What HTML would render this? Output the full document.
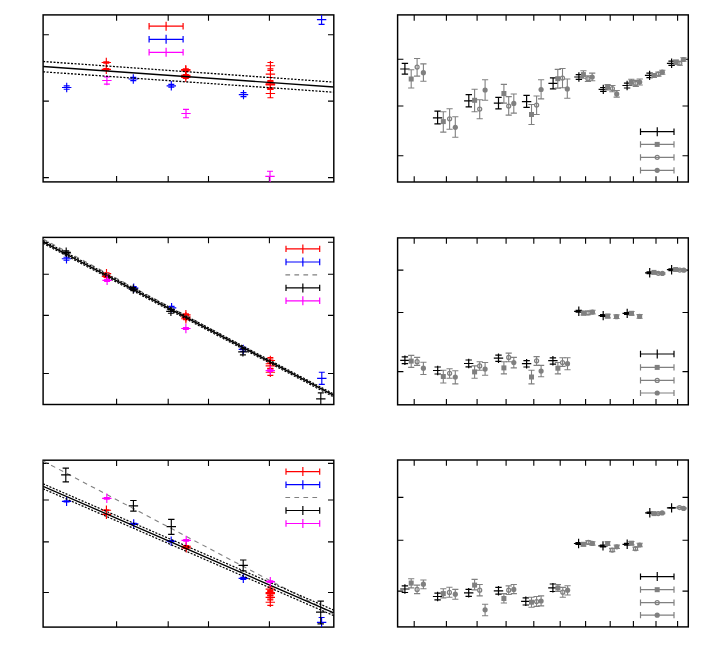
<!DOCTYPE html><html><head><meta charset="utf-8"><title>plot</title><style>html,body{margin:0;padding:0;background:#fff;font-family:"Liberation Sans",sans-serif}svg{display:block}</style></head><body>
<svg width="709" height="668" viewBox="0 0 709 668">
<rect width="709" height="668" fill="#fff"/>
<clipPath id="c1"><rect x="43.1" y="14.9" width="290.7" height="167.0"/></clipPath>
<rect x="43.1" y="14.9" width="290.70" height="167.00" fill="none" stroke="#000" stroke-width="1.45"/>
<path d="M116.6 181.9V176.1M168.2 181.9V176.1M208.5 181.9V176.1M269.4 181.9V176.1M116.6 14.9V20.7M168.2 14.9V20.7M208.5 14.9V20.7M269.4 14.9V20.7M43.1 34.8H48.9M43.1 101.1H48.9M43.1 177.6H48.9M333.8 34.8H328.0M333.8 101.1H328.0M333.8 177.6H328.0" stroke="#000" stroke-width="1.1" fill="none"/>
<g clip-path="url(#c1)">
<path d="M106.3 57.80V67.20M101.6 62.5H111.0M103.3 61.80H109.3M103.3 63.20H109.3" stroke="#ff0000" stroke-width="1.15" fill="none"/>
<path d="M106.3 64.65V74.05M101.6 69.35H111.0M103.3 68.65H109.3M103.3 70.05H109.3" stroke="#ff0000" stroke-width="1.15" fill="none"/>
<path d="M185.8 64.90V74.30M181.10 69.6H190.5M182.8 68.80H188.8M182.8 70.40H188.8" stroke="#ff0000" stroke-width="1.15" fill="none"/>
<path d="M185.8 66.00V75.40M181.10 70.7H190.5M182.8 69.90H188.8M182.8 71.50H188.8" stroke="#ff0000" stroke-width="1.15" fill="none"/>
<path d="M185.8 70.70V80.10M181.10 75.4H190.5M182.8 74.50H188.8M182.8 76.30H188.8" stroke="#ff0000" stroke-width="1.15" fill="none"/>
<path d="M185.8 72.70V82.10M181.10 77.4H190.5M182.8 76.50H188.8M182.8 78.30H188.8" stroke="#ff0000" stroke-width="1.15" fill="none"/>
<path d="M270.4 61.00V70.40M265.7 65.7H275.10M267.4 62.50H273.4M267.4 68.80H273.4" stroke="#ff0000" stroke-width="1.15" fill="none"/>
<path d="M270.4 69.40V78.80M265.7 74.1H275.10M267.4 70.50H273.4M267.4 77.50H273.4" stroke="#ff0000" stroke-width="1.15" fill="none"/>
<path d="M270.4 79.20V88.60M265.7 83.9H275.10M267.4 80.60H273.4M267.4 87.70H273.4" stroke="#ff0000" stroke-width="1.15" fill="none"/>
<path d="M270.4 80.10V89.50M265.7 84.8H275.10M267.4 81.80H273.4M267.4 88.50H273.4" stroke="#ff0000" stroke-width="1.15" fill="none"/>
<path d="M270.4 79.70V89.30M265.7 84.4H275.10M267.4 81.20H273.4M267.4 89.30H273.4" stroke="#ff0000" stroke-width="1.15" fill="none"/>
<path d="M270.4 88.80V98.20M265.7 93.5H275.10M267.4 89.30H273.4M267.4 97.70H273.4" stroke="#ff0000" stroke-width="1.15" fill="none"/>
<path d="M66.7 82.80V92.20M62.0 87.5H71.4M63.7 85.80H69.7M63.7 89.20H69.7" stroke="#0000ff" stroke-width="1.15" fill="none"/>
<path d="M133.3 74.30V83.70M128.60 79.0H138.0M130.3 77.40H136.3M130.3 80.60H136.3" stroke="#0000ff" stroke-width="1.15" fill="none"/>
<path d="M171.3 81.10V90.50M166.60 85.8H176.0M168.3 84.40H174.3M168.3 87.20H174.3" stroke="#0000ff" stroke-width="1.15" fill="none"/>
<path d="M243.5 89.90V99.30M238.8 94.6H248.2M240.5 92.60H246.5M240.5 96.60H246.5" stroke="#0000ff" stroke-width="1.15" fill="none"/>
<path d="M321.6 10.00V24.40M316.90 19.6H326.3M318.6 10.00H324.6M318.6 24.40H324.6" stroke="#0000ff" stroke-width="1.15" fill="none"/>
<path d="M106.9 75.75V85.15M102.2 80.45H111.60M103.9 76.90H109.9M103.9 84.05H109.9" stroke="#ff00ff" stroke-width="1.15" fill="none"/>
<path d="M186.0 108.80V118.20M181.3 113.5H190.7M183.0 109.30H189.0M183.0 117.70H189.0" stroke="#ff00ff" stroke-width="1.15" fill="none"/>
<path d="M270.0 171.20V190.00M265.3 176.4H274.7M267.0 171.20H273.0M267.0 190.00H273.0" stroke="#ff00ff" stroke-width="1.15" fill="none"/>
<path d="M43.1 61.5L333.8 82.1" stroke="#000" stroke-width="1.3" fill="none" stroke-dasharray="2 1.5"/>
<path d="M43.1 71.8L333.8 92.2" stroke="#000" stroke-width="1.3" fill="none" stroke-dasharray="2 1.5"/>
<path d="M43.1 66.5L333.8 87.0" stroke="#000" stroke-width="1.4" fill="none"/>
</g>
<path d="M149.1 26.2H183.1M149.1 23.0V29.4M183.1 23.0V29.4M166.1 21.7V30.7" stroke="#ff0000" stroke-width="1.2" fill="none"/>
<path d="M149.1 39.3H183.1M149.1 36.10V42.5M183.1 36.10V42.5M166.1 34.8V43.8" stroke="#0000ff" stroke-width="1.2" fill="none"/>
<path d="M149.1 52.3H183.1M149.1 49.10V55.5M183.1 49.10V55.5M166.1 47.8V56.8" stroke="#ff00ff" stroke-width="1.2" fill="none"/>
<rect x="397.6" y="14.9" width="290.70" height="167.10" fill="none" stroke="#000" stroke-width="1.45"/>
<path d="M414.2 182.0V176.2M446.4 182.0V176.2M477.1 182.0V176.2M506.1 182.0V176.2M533.8 182.0V176.2M560.2 182.0V176.2M585.6 182.0V176.2M610.2 182.0V176.2M633.4 182.0V176.2M656.0 182.0V176.2M677.6 182.0V176.2M414.2 14.9V20.7M446.4 14.9V20.7M477.1 14.9V20.7M506.1 14.9V20.7M533.8 14.9V20.7M560.2 14.9V20.7M585.6 14.9V20.7M610.2 14.9V20.7M633.4 14.9V20.7M656.0 14.9V20.7M677.6 14.9V20.7M397.6 59.2H403.40M397.6 106.0H403.40M397.6 155.8H403.40M688.3 59.2H682.5M688.3 106.0H682.5M688.3 155.8H682.5" stroke="#000" stroke-width="1.1" fill="none"/>
<path d="M404.9 63.30V74.10M400.2 69.0H409.60M401.7 63.30H408.10M401.7 74.10H408.10" stroke="#000000" stroke-width="1.2" fill="none"/>
<path d="M411.2 69.80V88.00M408.10 69.80H414.3M408.10 88.00H414.3" stroke="#808080" stroke-width="1.1" fill="none"/>
<rect x="408.7" y="76.5" width="5.0" height="5.0" fill="#808080"/>
<path d="M417.1 58.50V76.10M414.0 58.50H420.20M414.0 76.10H420.20" stroke="#808080" stroke-width="1.1" fill="none"/>
<circle cx="417.1" cy="67.0" r="2.0" fill="none" stroke="#808080" stroke-width="1.25"/>
<path d="M423.4 63.90V81.20M420.30 63.90H426.5M420.30 81.20H426.5" stroke="#808080" stroke-width="1.1" fill="none"/>
<circle cx="423.4" cy="72.7" r="2.6" fill="#808080"/>
<path d="M437.6 111.10V123.90M432.90 117.9H442.3M434.40 111.10H440.8M434.40 123.90H440.8" stroke="#000000" stroke-width="1.2" fill="none"/>
<path d="M443.3 111.70V132.10M440.2 111.70H446.40M440.2 132.10H446.40" stroke="#808080" stroke-width="1.1" fill="none"/>
<rect x="440.8" y="119.1" width="5.0" height="5.0" fill="#808080"/>
<path d="M449.6 108.80V129.30M446.5 108.80H452.70M446.5 129.30H452.70" stroke="#808080" stroke-width="1.1" fill="none"/>
<circle cx="449.6" cy="118.8" r="2.0" fill="none" stroke="#808080" stroke-width="1.25"/>
<path d="M455.3 116.80V137.30M452.2 116.80H458.40M452.2 137.30H458.40" stroke="#808080" stroke-width="1.1" fill="none"/>
<circle cx="455.3" cy="127.3" r="2.6" fill="#808080"/>
<path d="M468.8 94.60V106.90M464.1 100.8H473.5M465.6 94.60H472.0M465.6 106.90H472.0" stroke="#000000" stroke-width="1.2" fill="none"/>
<path d="M474.6 89.20V111.70M471.5 89.20H477.70M471.5 111.70H477.70" stroke="#808080" stroke-width="1.1" fill="none"/>
<rect x="472.1" y="97.8" width="5.0" height="5.0" fill="#808080"/>
<path d="M479.7 99.70V118.80M476.60 99.70H482.8M476.60 118.80H482.8" stroke="#808080" stroke-width="1.1" fill="none"/>
<circle cx="479.7" cy="109.1" r="2.0" fill="none" stroke="#808080" stroke-width="1.25"/>
<path d="M485.1 79.80V100.30M482.0 79.80H488.20M482.0 100.30H488.20" stroke="#808080" stroke-width="1.1" fill="none"/>
<circle cx="485.1" cy="90.0" r="2.6" fill="#808080"/>
<path d="M498.5 97.40V108.80M493.8 103.1H503.2M495.3 97.40H501.7M495.3 108.80H501.7" stroke="#000000" stroke-width="1.2" fill="none"/>
<path d="M503.9 84.40V103.10M500.80 84.40H507.0M500.80 103.10H507.0" stroke="#808080" stroke-width="1.1" fill="none"/>
<rect x="501.4" y="91.0" width="5.0" height="5.0" fill="#808080"/>
<path d="M508.7 96.60V115.10M505.60 96.60H511.8M505.60 115.10H511.8" stroke="#808080" stroke-width="1.1" fill="none"/>
<circle cx="508.7" cy="106.0" r="2.0" fill="none" stroke="#808080" stroke-width="1.25"/>
<path d="M513.8 94.00V113.10M510.70 94.00H516.9M510.70 113.10H516.9" stroke="#808080" stroke-width="1.1" fill="none"/>
<circle cx="513.8" cy="103.4" r="2.6" fill="#808080"/>
<path d="M526.6 95.40V107.40M521.9 101.7H531.30M523.4 95.40H529.80M523.4 107.40H529.80" stroke="#000000" stroke-width="1.2" fill="none"/>
<path d="M531.5 104.50V124.50M528.4 104.50H534.6M528.4 124.50H534.6" stroke="#808080" stroke-width="1.1" fill="none"/>
<rect x="529.0" y="112.0" width="5.0" height="5.0" fill="#808080"/>
<path d="M536.6 96.00V114.50M533.5 96.00H539.7M533.5 114.50H539.7" stroke="#808080" stroke-width="1.1" fill="none"/>
<circle cx="536.6" cy="105.1" r="2.0" fill="none" stroke="#808080" stroke-width="1.25"/>
<path d="M541.1 79.80V98.90M538.0 79.80H544.2M538.0 98.90H544.2" stroke="#808080" stroke-width="1.1" fill="none"/>
<circle cx="541.1" cy="89.5" r="2.6" fill="#808080"/>
<path d="M553.1 77.90V88.90M548.4 83.4H557.80M549.9 77.90H556.30M549.9 88.90H556.30" stroke="#000000" stroke-width="1.2" fill="none"/>
<path d="M557.8 69.40V88.10M554.70 69.40H560.9M554.70 88.10H560.9" stroke="#808080" stroke-width="1.1" fill="none"/>
<rect x="555.3" y="76.2" width="5.0" height="5.0" fill="#808080"/>
<path d="M562.5 68.50V87.70M559.4 68.50H565.6M559.4 87.70H565.6" stroke="#808080" stroke-width="1.1" fill="none"/>
<circle cx="562.5" cy="78.1" r="2.0" fill="none" stroke="#808080" stroke-width="1.25"/>
<path d="M567.3 79.00V98.20M564.20 79.00H570.4M564.20 98.20H570.4" stroke="#808080" stroke-width="1.1" fill="none"/>
<circle cx="567.3" cy="88.9" r="2.6" fill="#808080"/>
<path d="M578.9 72.30V81.70M574.20 77.0H583.6M575.70 74.70H582.1M575.70 79.30H582.1" stroke="#000000" stroke-width="1.2" fill="none"/>
<path d="M583.4 70.80V78.30M580.3 70.80H586.5M580.3 78.30H586.5" stroke="#808080" stroke-width="1.1" fill="none"/>
<rect x="580.9" y="72.1" width="5.0" height="5.0" fill="#808080"/>
<path d="M587.9 75.90V81.50M584.8 75.90H591.0M584.8 81.50H591.0" stroke="#808080" stroke-width="1.1" fill="none"/>
<circle cx="587.9" cy="78.7" r="2.0" fill="none" stroke="#808080" stroke-width="1.25"/>
<path d="M592.2 73.10V80.70M589.1 73.10H595.30M589.1 80.70H595.30" stroke="#808080" stroke-width="1.1" fill="none"/>
<circle cx="592.2" cy="77.0" r="2.6" fill="#808080"/>
<path d="M603.3 84.70V94.10M598.60 89.4H608.0M600.10 87.50H606.5M600.10 91.30H606.5" stroke="#000000" stroke-width="1.2" fill="none"/>
<path d="M607.6 84.60V90.00M604.5 84.60H610.7M604.5 90.00H610.7" stroke="#808080" stroke-width="1.1" fill="none"/>
<rect x="605.1" y="84.7" width="5.0" height="5.0" fill="#808080"/>
<path d="M612.4 85.50V91.70M609.3 85.50H615.5M609.3 91.70H615.5" stroke="#808080" stroke-width="1.1" fill="none"/>
<circle cx="612.4" cy="88.5" r="2.0" fill="none" stroke="#808080" stroke-width="1.25"/>
<path d="M616.7 90.50V97.10M613.6 90.50H619.80M613.6 97.10H619.80" stroke="#808080" stroke-width="1.1" fill="none"/>
<circle cx="616.7" cy="93.9" r="2.6" fill="#808080"/>
<path d="M627.1 80.80V90.20M622.4 85.5H631.80M623.9 83.10H630.30M623.9 88.00H630.30" stroke="#000000" stroke-width="1.2" fill="none"/>
<path d="M631.3 79.30V85.30M628.20 79.30H634.4M628.20 85.30H634.4" stroke="#808080" stroke-width="1.1" fill="none"/>
<rect x="628.8" y="79.8" width="5.0" height="5.0" fill="#808080"/>
<path d="M635.8 80.40V86.40M632.70 80.40H638.9M632.70 86.40H638.9" stroke="#808080" stroke-width="1.1" fill="none"/>
<circle cx="635.8" cy="83.4" r="2.0" fill="none" stroke="#808080" stroke-width="1.25"/>
<path d="M639.7 79.00V85.00M636.6 79.00H642.80M636.6 85.00H642.80" stroke="#808080" stroke-width="1.1" fill="none"/>
<circle cx="639.7" cy="82.0" r="2.6" fill="#808080"/>
<path d="M649.6 70.70V80.10M644.9 75.4H654.30M646.4 73.20H652.80M646.4 77.60H652.80" stroke="#000000" stroke-width="1.2" fill="none"/>
<path d="M653.9 73.50V77.50M650.8 73.50H657.0M650.8 77.50H657.0" stroke="#808080" stroke-width="1.1" fill="none"/>
<rect x="651.4" y="73.0" width="5.0" height="5.0" fill="#808080"/>
<path d="M658.4 72.10V76.10M655.3 72.10H661.5M655.3 76.10H661.5" stroke="#808080" stroke-width="1.1" fill="none"/>
<circle cx="658.4" cy="74.1" r="2.0" fill="none" stroke="#808080" stroke-width="1.25"/>
<path d="M662.3 70.20V74.20M659.20 70.20H665.4M659.20 74.20H665.4" stroke="#808080" stroke-width="1.1" fill="none"/>
<circle cx="662.3" cy="72.2" r="2.6" fill="#808080"/>
<path d="M671.6 58.60V68.00M666.9 63.3H676.30M668.4 61.20H674.80M668.4 65.40H674.80" stroke="#000000" stroke-width="1.2" fill="none"/>
<path d="M675.9 60.10V64.50M672.8 60.10H679.0M672.8 64.50H679.0" stroke="#808080" stroke-width="1.1" fill="none"/>
<rect x="673.4" y="59.8" width="5.0" height="5.0" fill="#808080"/>
<path d="M679.8 61.30V65.30M676.70 61.30H682.9M676.70 65.30H682.9" stroke="#808080" stroke-width="1.1" fill="none"/>
<circle cx="679.8" cy="63.3" r="2.0" fill="none" stroke="#808080" stroke-width="1.25"/>
<path d="M683.4 57.70V61.30M680.3 57.70H686.5M680.3 61.30H686.5" stroke="#808080" stroke-width="1.1" fill="none"/>
<circle cx="683.4" cy="59.5" r="2.6" fill="#808080"/>
<path d="M640.5 131.7H674.0M640.5 128.5V134.90M674.0 128.5V134.90M657.25 127.20V136.2" stroke="#000000" stroke-width="1.2" fill="none"/>
<path d="M640.5 144.4H674.0M640.5 141.3V147.5M674.0 141.3V147.5" stroke="#808080" stroke-width="1.2" fill="none"/>
<rect x="654.7" y="141.9" width="5.0" height="5.0" fill="#808080"/>
<path d="M640.5 157.3H674.0M640.5 154.20V160.4M674.0 154.20V160.4" stroke="#808080" stroke-width="1.2" fill="none"/>
<circle cx="657.2" cy="157.3" r="2.0" fill="none" stroke="#808080" stroke-width="1.25"/>
<path d="M640.5 170.3H674.0M640.5 167.20V173.4M674.0 167.20V173.4" stroke="#808080" stroke-width="1.2" fill="none"/>
<circle cx="657.2" cy="170.3" r="2.6" fill="#808080"/>
<clipPath id="c3"><rect x="43.1" y="237.4" width="290.7" height="167.1"/></clipPath>
<rect x="43.1" y="237.4" width="290.70" height="167.10" fill="none" stroke="#000" stroke-width="1.45"/>
<path d="M116.6 404.5V398.7M168.2 404.5V398.7M208.5 404.5V398.7M269.4 404.5V398.7M116.6 237.4V243.20M168.2 237.4V243.20M208.5 237.4V243.20M269.4 237.4V243.20M43.1 242.3H48.9M43.1 274.2H48.9M43.1 315.4H48.9M43.1 373.5H48.9M333.8 242.3H328.0M333.8 274.2H328.0M333.8 315.4H328.0M333.8 373.5H328.0" stroke="#000" stroke-width="1.1" fill="none"/>
<g clip-path="url(#c3)">
<path d="M106.5 268.90V278.30M101.8 273.6H111.2M103.5 272.70H109.5M103.5 274.50H109.5" stroke="#ff0000" stroke-width="1.15" fill="none"/>
<path d="M106.5 271.70V281.10M101.8 276.4H111.2M103.5 275.50H109.5M103.5 277.30H109.5" stroke="#ff0000" stroke-width="1.15" fill="none"/>
<path d="M185.9 310.10V319.50M181.20 314.8H190.6M182.9 313.80H188.9M182.9 315.80H188.9" stroke="#ff0000" stroke-width="1.15" fill="none"/>
<path d="M185.9 312.10V321.50M181.20 316.8H190.6M182.9 315.80H188.9M182.9 317.80H188.9" stroke="#ff0000" stroke-width="1.15" fill="none"/>
<path d="M185.9 314.00V323.40M181.20 318.7H190.6M182.9 317.70H188.9M182.9 319.70H188.9" stroke="#ff0000" stroke-width="1.15" fill="none"/>
<path d="M270.35 355.80V365.20M265.65 360.5H275.05M267.35 357.60H273.35M267.35 363.40H273.35" stroke="#ff0000" stroke-width="1.15" fill="none"/>
<path d="M270.35 359.00V368.40M265.65 363.7H275.05M267.35 359.00H273.35M267.35 368.20H273.35" stroke="#ff0000" stroke-width="1.15" fill="none"/>
<path d="M270.35 361.10V370.50M265.65 365.8H275.05M267.35 363.00H273.35M267.35 368.60H273.35" stroke="#ff0000" stroke-width="1.15" fill="none"/>
<path d="M270.35 367.50V376.90M265.65 372.2H275.05M267.35 369.00H273.35M267.35 375.30H273.35" stroke="#ff0000" stroke-width="1.15" fill="none"/>
<path d="M66.5 254.00V263.40M61.8 258.7H71.2M63.5 257.20H69.5M63.5 260.20H69.5" stroke="#0000ff" stroke-width="1.15" fill="none"/>
<path d="M133.7 283.40V292.80M129.0 288.1H138.40M130.7 286.60H136.7M130.7 289.60H136.7" stroke="#0000ff" stroke-width="1.15" fill="none"/>
<path d="M171.6 303.10V312.50M166.9 307.8H176.30M168.6 306.30H174.6M168.6 309.30H174.6" stroke="#0000ff" stroke-width="1.15" fill="none"/>
<path d="M243.3 344.70V354.10M238.60 349.4H248.0M240.3 347.40H246.3M240.3 351.40H246.3" stroke="#0000ff" stroke-width="1.15" fill="none"/>
<path d="M321.8 372.20V384.40M317.1 378.3H326.5M318.8 372.20H324.8M318.8 384.40H324.8" stroke="#0000ff" stroke-width="1.15" fill="none"/>
<path d="M43.1 239.0L333.8 395.0" stroke="#808080" stroke-width="1.1" fill="none" stroke-dasharray="4.7 4.3"/>
<path d="M43.1 240.45L333.8 394.05" stroke="#000" stroke-width="1.2" fill="none" stroke-dasharray="2 1.5"/>
<path d="M43.1 243.35L333.8 396.95" stroke="#000" stroke-width="1.2" fill="none" stroke-dasharray="2 1.5"/>
<path d="M43.1 241.9L333.8 395.5" stroke="#000" stroke-width="1.4" fill="none"/>
<path d="M66.2 247.60V257.00M61.5 252.3H70.9M63.2 250.80H69.2M63.2 253.80H69.2" stroke="#000000" stroke-width="1.15" fill="none"/>
<path d="M133.3 284.40V293.80M128.60 289.1H138.0M130.3 287.60H136.3M130.3 290.60H136.3" stroke="#000000" stroke-width="1.15" fill="none"/>
<path d="M170.9 306.70V316.10M166.20 311.4H175.6M167.9 309.60H173.9M167.9 313.20H173.9" stroke="#000000" stroke-width="1.15" fill="none"/>
<path d="M242.9 347.20V356.60M238.20 351.9H247.6M239.9 348.90H245.9M239.9 354.90H245.9" stroke="#000000" stroke-width="1.15" fill="none"/>
<path d="M320.8 392.90V410.00M316.1 398.8H325.5M317.8 392.90H323.8M317.8 410.00H323.8" stroke="#000000" stroke-width="1.15" fill="none"/>
<path d="M107.1 275.60V285.00M102.40 280.3H111.8M104.1 279.30H110.1M104.1 281.30H110.1" stroke="#ff00ff" stroke-width="1.15" fill="none"/>
<path d="M185.9 323.80V333.20M181.20 328.5H190.6M182.9 327.60H188.9M182.9 329.40H188.9" stroke="#ff00ff" stroke-width="1.15" fill="none"/>
<path d="M270.3 365.80V375.20M265.6 370.5H275.0M267.3 369.70H273.3M267.3 371.30H273.3" stroke="#ff00ff" stroke-width="1.15" fill="none"/>
</g>
<path d="M286.0 248.9H319.7M286.0 245.70V252.1M319.7 245.70V252.1M302.85 244.4V253.4" stroke="#ff0000" stroke-width="1.2" fill="none"/>
<path d="M286.0 262.0H319.7M286.0 258.8V265.2M319.7 258.8V265.2M302.85 257.5V266.5" stroke="#0000ff" stroke-width="1.2" fill="none"/>
<path d="M285.4 274.8L319.7 274.8" stroke="#808080" stroke-width="1.3" fill="none" stroke-dasharray="4.7 4.3"/>
<path d="M286.0 287.9H319.7M286.0 284.7V291.10M319.7 284.7V291.10M302.85 283.4V292.4" stroke="#000000" stroke-width="1.2" fill="none"/>
<path d="M286.0 300.8H319.7M286.0 297.6V304.0M319.7 297.6V304.0M302.85 296.3V305.3" stroke="#ff00ff" stroke-width="1.2" fill="none"/>
<rect x="397.6" y="237.9" width="290.70" height="166.90" fill="none" stroke="#000" stroke-width="1.45"/>
<path d="M414.2 404.8V399.0M446.4 404.8V399.0M477.1 404.8V399.0M506.1 404.8V399.0M533.8 404.8V399.0M560.2 404.8V399.0M585.6 404.8V399.0M610.2 404.8V399.0M633.4 404.8V399.0M656.0 404.8V399.0M677.6 404.8V399.0M414.2 237.9V243.70M446.4 237.9V243.70M477.1 237.9V243.70M506.1 237.9V243.70M533.8 237.9V243.70M560.2 237.9V243.70M585.6 237.9V243.70M610.2 237.9V243.70M633.4 237.9V243.70M656.0 237.9V243.70M677.6 237.9V243.70M397.6 270.1H403.40M397.6 312.5H403.40M397.6 371.6H403.40M688.3 270.1H682.5M688.3 312.5H682.5M688.3 371.6H682.5" stroke="#000" stroke-width="1.1" fill="none"/>
<path d="M404.9 355.60V365.00M400.2 360.3H409.60M401.7 356.90H408.10M401.7 363.60H408.10" stroke="#000000" stroke-width="1.2" fill="none"/>
<path d="M411.2 355.40V367.40M408.10 355.40H414.3M408.10 367.40H414.3" stroke="#808080" stroke-width="1.1" fill="none"/>
<rect x="408.7" y="358.6" width="5.0" height="5.0" fill="#808080"/>
<path d="M417.1 357.40V365.40M414.0 357.40H420.20M414.0 365.40H420.20" stroke="#808080" stroke-width="1.1" fill="none"/>
<circle cx="417.1" cy="361.7" r="2.0" fill="none" stroke="#808080" stroke-width="1.25"/>
<path d="M423.4 362.20V374.50M420.30 362.20H426.5M420.30 374.50H426.5" stroke="#808080" stroke-width="1.1" fill="none"/>
<circle cx="423.4" cy="368.2" r="2.6" fill="#808080"/>
<path d="M437.7 365.80V375.20M433.0 370.5H442.4M434.5 367.00H440.9M434.5 374.00H440.9" stroke="#000000" stroke-width="1.2" fill="none"/>
<path d="M443.3 370.20V383.00M440.2 370.20H446.40M440.2 383.00H446.40" stroke="#808080" stroke-width="1.1" fill="none"/>
<rect x="440.8" y="374.0" width="5.0" height="5.0" fill="#808080"/>
<path d="M449.6 368.80V378.20M446.5 368.80H452.70M446.5 378.20H452.70" stroke="#808080" stroke-width="1.1" fill="none"/>
<circle cx="449.6" cy="373.3" r="2.0" fill="none" stroke="#808080" stroke-width="1.25"/>
<path d="M455.3 370.80V383.90M452.2 370.80H458.40M452.2 383.90H458.40" stroke="#808080" stroke-width="1.1" fill="none"/>
<circle cx="455.3" cy="377.0" r="2.6" fill="#808080"/>
<path d="M468.7 358.80V368.20M464.0 363.5H473.4M465.5 360.00H471.9M465.5 366.90H471.9" stroke="#000000" stroke-width="1.2" fill="none"/>
<path d="M474.6 365.90V378.20M471.5 365.90H477.70M471.5 378.20H477.70" stroke="#808080" stroke-width="1.1" fill="none"/>
<rect x="472.1" y="369.4" width="5.0" height="5.0" fill="#808080"/>
<path d="M479.7 361.70V370.20M476.60 361.70H482.8M476.60 370.20H482.8" stroke="#808080" stroke-width="1.1" fill="none"/>
<circle cx="479.7" cy="365.9" r="2.0" fill="none" stroke="#808080" stroke-width="1.25"/>
<path d="M485.1 362.50V375.30M482.0 362.50H488.20M482.0 375.30H488.20" stroke="#808080" stroke-width="1.1" fill="none"/>
<circle cx="485.1" cy="369.1" r="2.6" fill="#808080"/>
<path d="M498.5 353.50V362.90M493.8 358.2H503.2M495.3 355.20H501.7M495.3 361.30H501.7" stroke="#000000" stroke-width="1.2" fill="none"/>
<path d="M503.9 361.70V373.90M500.80 361.70H507.0M500.80 373.90H507.0" stroke="#808080" stroke-width="1.1" fill="none"/>
<rect x="501.4" y="365.4" width="5.0" height="5.0" fill="#808080"/>
<path d="M508.7 353.10V361.70M505.60 353.10H511.8M505.60 361.70H511.8" stroke="#808080" stroke-width="1.1" fill="none"/>
<circle cx="508.7" cy="357.4" r="2.0" fill="none" stroke="#808080" stroke-width="1.25"/>
<path d="M513.8 357.40V367.90M510.70 357.40H516.9M510.70 367.90H516.9" stroke="#808080" stroke-width="1.1" fill="none"/>
<circle cx="513.8" cy="362.5" r="2.6" fill="#808080"/>
<path d="M526.6 359.00V368.40M521.9 363.7H531.30M523.4 360.60H529.80M523.4 367.00H529.80" stroke="#000000" stroke-width="1.2" fill="none"/>
<path d="M531.5 370.20V383.90M528.4 370.20H534.6M528.4 383.90H534.6" stroke="#808080" stroke-width="1.1" fill="none"/>
<rect x="529.0" y="374.5" width="5.0" height="5.0" fill="#808080"/>
<path d="M536.6 356.60V365.40M533.5 356.60H539.7M533.5 365.40H539.7" stroke="#808080" stroke-width="1.1" fill="none"/>
<circle cx="536.6" cy="360.8" r="2.0" fill="none" stroke="#808080" stroke-width="1.25"/>
<path d="M541.1 365.40V376.80M538.0 365.40H544.2M538.0 376.80H544.2" stroke="#808080" stroke-width="1.1" fill="none"/>
<circle cx="541.1" cy="371.1" r="2.6" fill="#808080"/>
<path d="M552.9 356.00V365.40M548.20 360.7H557.6M549.70 357.80H556.1M549.70 364.10H556.1" stroke="#000000" stroke-width="1.2" fill="none"/>
<path d="M557.9 362.50V373.90M554.8 362.50H561.0M554.8 373.90H561.0" stroke="#808080" stroke-width="1.1" fill="none"/>
<rect x="555.4" y="365.7" width="5.0" height="5.0" fill="#808080"/>
<path d="M562.5 357.80V366.40M559.4 357.80H565.6M559.4 366.40H565.6" stroke="#808080" stroke-width="1.1" fill="none"/>
<circle cx="562.5" cy="362.6" r="2.0" fill="none" stroke="#808080" stroke-width="1.25"/>
<path d="M567.5 357.80V369.80M564.4 357.80H570.6M564.4 369.80H570.6" stroke="#808080" stroke-width="1.1" fill="none"/>
<circle cx="567.5" cy="363.7" r="2.6" fill="#808080"/>
<path d="M578.8 306.60V316.00M574.10 311.3H583.5M575.60 310.40H582.0M575.60 312.20H582.0" stroke="#000000" stroke-width="1.2" fill="none"/>
<path d="M583.6 311.40V315.00M580.5 311.40H586.7M580.5 315.00H586.7" stroke="#808080" stroke-width="1.1" fill="none"/>
<rect x="581.1" y="310.7" width="5.0" height="5.0" fill="#808080"/>
<path d="M588.1 311.10V314.70M585.0 311.10H591.2M585.0 314.70H591.2" stroke="#808080" stroke-width="1.1" fill="none"/>
<circle cx="588.1" cy="312.9" r="2.0" fill="none" stroke="#808080" stroke-width="1.25"/>
<path d="M592.5 310.30V313.90M589.4 310.30H595.6M589.4 313.90H595.6" stroke="#808080" stroke-width="1.1" fill="none"/>
<circle cx="592.5" cy="312.1" r="2.6" fill="#808080"/>
<path d="M603.2 310.90V320.30M598.5 315.6H607.90M600.0 314.70H606.40M600.0 316.50H606.40" stroke="#000000" stroke-width="1.2" fill="none"/>
<path d="M607.7 314.30V317.90M604.6 314.30H610.80M604.6 317.90H610.80" stroke="#808080" stroke-width="1.1" fill="none"/>
<rect x="605.2" y="313.6" width="5.0" height="5.0" fill="#808080"/>
<path d="M616.5 314.90V318.50M613.4 314.90H619.6M613.4 318.50H619.6" stroke="#808080" stroke-width="1.1" fill="none"/>
<circle cx="616.5" cy="316.7" r="2.6" fill="#808080"/>
<path d="M627.2 308.70V318.10M622.5 313.4H631.90M624.0 312.50H630.40M624.0 314.30H630.40" stroke="#000000" stroke-width="1.2" fill="none"/>
<path d="M631.5 311.50V315.10M628.4 311.50H634.6M628.4 315.10H634.6" stroke="#808080" stroke-width="1.1" fill="none"/>
<rect x="629.0" y="310.8" width="5.0" height="5.0" fill="#808080"/>
<path d="M639.6 314.60V318.20M636.5 314.60H642.7M636.5 318.20H642.7" stroke="#808080" stroke-width="1.1" fill="none"/>
<circle cx="639.6" cy="316.4" r="2.6" fill="#808080"/>
<path d="M649.7 268.10V277.50M645.0 272.8H654.40M646.5 271.90H652.90M646.5 273.70H652.90" stroke="#000000" stroke-width="1.2" fill="none"/>
<path d="M654.0 271.70V273.10M650.9 271.70H657.1M650.9 273.10H657.1" stroke="#808080" stroke-width="1.1" fill="none"/>
<rect x="651.5" y="269.9" width="5.0" height="5.0" fill="#808080"/>
<path d="M658.3 272.60V274.00M655.20 272.60H661.4M655.20 274.00H661.4" stroke="#808080" stroke-width="1.1" fill="none"/>
<circle cx="658.3" cy="273.3" r="2.0" fill="none" stroke="#808080" stroke-width="1.25"/>
<path d="M662.4 272.70V274.10M659.3 272.70H665.5M659.3 274.10H665.5" stroke="#808080" stroke-width="1.1" fill="none"/>
<circle cx="662.4" cy="273.4" r="2.6" fill="#808080"/>
<path d="M671.6 265.00V274.40M666.9 269.7H676.30M668.4 268.80H674.80M668.4 270.60H674.80" stroke="#000000" stroke-width="1.2" fill="none"/>
<path d="M675.7 268.80V270.20M672.6 268.80H678.80M672.6 270.20H678.80" stroke="#808080" stroke-width="1.1" fill="none"/>
<rect x="673.2" y="267.0" width="5.0" height="5.0" fill="#808080"/>
<path d="M679.8 269.40V270.80M676.70 269.40H682.9M676.70 270.80H682.9" stroke="#808080" stroke-width="1.1" fill="none"/>
<circle cx="679.8" cy="270.1" r="2.0" fill="none" stroke="#808080" stroke-width="1.25"/>
<path d="M683.8 269.50V270.90M680.70 269.50H686.9M680.70 270.90H686.9" stroke="#808080" stroke-width="1.1" fill="none"/>
<circle cx="683.8" cy="270.2" r="2.6" fill="#808080"/>
<path d="M640.5 354.0H674.0M640.5 350.8V357.2M674.0 350.8V357.2M657.25 349.5V358.5" stroke="#000000" stroke-width="1.2" fill="none"/>
<path d="M640.5 367.4H674.0M640.5 364.30V370.5M674.0 364.30V370.5" stroke="#808080" stroke-width="1.2" fill="none"/>
<rect x="654.7" y="364.9" width="5.0" height="5.0" fill="#808080"/>
<path d="M640.5 380.4H674.0M640.5 377.30V383.5M674.0 377.30V383.5" stroke="#808080" stroke-width="1.2" fill="none"/>
<circle cx="657.2" cy="380.4" r="2.0" fill="none" stroke="#808080" stroke-width="1.25"/>
<path d="M640.5 393.0H674.0M640.5 389.9V396.1M674.0 389.9V396.1" stroke="#808080" stroke-width="1.2" fill="none"/>
<circle cx="657.2" cy="393.0" r="2.6" fill="#808080"/>
<clipPath id="c5"><rect x="43.1" y="460.2" width="290.7" height="166.90"/></clipPath>
<rect x="43.1" y="460.2" width="290.70" height="166.90" fill="none" stroke="#000" stroke-width="1.45"/>
<path d="M116.6 627.1V621.30M168.2 627.1V621.30M208.5 627.1V621.30M269.4 627.1V621.30M116.6 460.2V466.0M168.2 460.2V466.0M208.5 460.2V466.0M269.4 460.2V466.0M43.1 463.4H48.9M43.1 500.0H48.9M43.1 541.9H48.9M43.1 592.5H48.9M333.8 463.4H328.0M333.8 500.0H328.0M333.8 541.9H328.0M333.8 592.5H328.0" stroke="#000" stroke-width="1.1" fill="none"/>
<g clip-path="url(#c5)">
<path d="M106.4 505.50V514.90M101.7 510.2H111.10M103.4 509.90H109.4M103.4 510.50H109.4" stroke="#ff0000" stroke-width="1.15" fill="none"/>
<path d="M106.4 509.60V519.00M101.7 514.3H111.10M103.4 514.00H109.4M103.4 514.60H109.4" stroke="#ff0000" stroke-width="1.15" fill="none"/>
<path d="M186.2 541.50V550.90M181.5 546.2H190.90M183.2 545.60H189.2M183.2 546.80H189.2" stroke="#ff0000" stroke-width="1.15" fill="none"/>
<path d="M186.2 543.20V552.60M181.5 547.9H190.90M183.2 547.30H189.2M183.2 548.50H189.2" stroke="#ff0000" stroke-width="1.15" fill="none"/>
<path d="M270.3 584.40V593.80M265.6 589.1H275.0M267.3 587.00H273.3M267.3 591.20H273.3" stroke="#ff0000" stroke-width="1.15" fill="none"/>
<path d="M270.3 587.90V597.30M265.6 592.6H275.0M267.3 590.40H273.3M267.3 595.30H273.3" stroke="#ff0000" stroke-width="1.15" fill="none"/>
<path d="M270.3 588.90V598.30M265.6 593.6H275.0M267.3 591.30H273.3M267.3 595.90H273.3" stroke="#ff0000" stroke-width="1.15" fill="none"/>
<path d="M270.3 592.70V602.10M265.6 597.4H275.0M267.3 595.00H273.3M267.3 599.80H273.3" stroke="#ff0000" stroke-width="1.15" fill="none"/>
<path d="M270.3 597.50V606.90M265.6 602.2H275.0M267.3 599.00H273.3M267.3 605.40H273.3" stroke="#ff0000" stroke-width="1.15" fill="none"/>
<path d="M66.6 496.70V506.10M61.90 501.4H71.3M63.60 500.80H69.6M63.60 502.00H69.6" stroke="#0000ff" stroke-width="1.15" fill="none"/>
<path d="M133.7 519.20V528.60M129.0 523.9H138.40M130.7 523.40H136.7M130.7 524.40H136.7" stroke="#0000ff" stroke-width="1.15" fill="none"/>
<path d="M171.2 536.50V545.90M166.5 541.2H175.90M168.2 540.60H174.2M168.2 541.80H174.2" stroke="#0000ff" stroke-width="1.15" fill="none"/>
<path d="M243.3 573.60V583.00M238.60 578.3H248.0M240.3 577.30H246.3M240.3 579.30H246.3" stroke="#0000ff" stroke-width="1.15" fill="none"/>
<path d="M321.6 617.50V632.00M316.90 622.3H326.3M318.6 617.50H324.6M318.6 632.00H324.6" stroke="#0000ff" stroke-width="1.15" fill="none"/>
<path d="M43.1 461.0L333.8 614.1" stroke="#808080" stroke-width="1.1" fill="none" stroke-dasharray="4.7 4.3"/>
<path d="M43.1 483.85L333.8 610.1" stroke="#000" stroke-width="1.2" fill="none" stroke-dasharray="2 1.5"/>
<path d="M43.1 488.8L333.8 615.7" stroke="#000" stroke-width="1.2" fill="none" stroke-dasharray="2 1.5"/>
<path d="M43.1 486.3L333.8 612.9" stroke="#000" stroke-width="1.35" fill="none"/>
<path d="M65.8 468.10V481.90M61.10 474.8H70.5M62.60 468.10H69.0M62.60 481.90H69.0" stroke="#000000" stroke-width="1.15" fill="none"/>
<path d="M133.4 500.50V511.10M128.70 505.9H138.1M130.20 500.50H136.6M130.20 511.10H136.6" stroke="#000000" stroke-width="1.15" fill="none"/>
<path d="M171.3 519.40V534.30M166.60 526.6H176.0M168.10 519.40H174.5M168.10 534.30H174.5" stroke="#000000" stroke-width="1.15" fill="none"/>
<path d="M243.2 560.00V570.80M238.5 565.4H247.90M240.0 560.00H246.40M240.0 570.80H246.40" stroke="#000000" stroke-width="1.15" fill="none"/>
<path d="M320.7 601.10V623.80M316.0 612.15H325.4M317.5 601.10H323.9M317.5 623.80H323.9" stroke="#000000" stroke-width="1.15" fill="none"/>
<path d="M106.8 493.60V503.00M102.1 498.3H111.5M103.8 497.50H109.8M103.8 499.10H109.8" stroke="#ff00ff" stroke-width="1.15" fill="none"/>
<path d="M186.2 535.70V545.10M181.5 540.4H190.90M183.2 539.60H189.2M183.2 541.20H189.2" stroke="#ff00ff" stroke-width="1.15" fill="none"/>
<path d="M270.3 576.90V586.30M265.6 581.6H275.0M267.3 580.80H273.3M267.3 582.40H273.3" stroke="#ff00ff" stroke-width="1.15" fill="none"/>
</g>
<path d="M286.0 471.6H319.7M286.0 468.40V474.8M319.7 468.40V474.8M302.85 467.1V476.1" stroke="#ff0000" stroke-width="1.2" fill="none"/>
<path d="M286.0 484.7H319.7M286.0 481.5V487.9M319.7 481.5V487.9M302.85 480.2V489.2" stroke="#0000ff" stroke-width="1.2" fill="none"/>
<path d="M285.4 497.5L319.7 497.5" stroke="#808080" stroke-width="1.0" fill="none" stroke-dasharray="4.7 4.3"/>
<path d="M286.0 510.5H319.7M286.0 507.3V513.7M319.7 507.3V513.7M302.85 506.0V515.0" stroke="#000000" stroke-width="1.2" fill="none"/>
<path d="M286.0 523.5H319.7M286.0 520.3V526.7M319.7 520.3V526.7M302.85 519.0V528.0" stroke="#ff00ff" stroke-width="1.2" fill="none"/>
<rect x="397.6" y="460.0" width="290.70" height="166.90" fill="none" stroke="#000" stroke-width="1.45"/>
<path d="M414.2 626.9V621.1M446.4 626.9V621.1M477.1 626.9V621.1M506.1 626.9V621.1M533.8 626.9V621.1M560.2 626.9V621.1M585.6 626.9V621.1M610.2 626.9V621.1M633.4 626.9V621.1M656.0 626.9V621.1M677.6 626.9V621.1M414.2 460.0V465.8M446.4 460.0V465.8M477.1 460.0V465.8M506.1 460.0V465.8M533.8 460.0V465.8M560.2 460.0V465.8M585.6 460.0V465.8M610.2 460.0V465.8M633.4 460.0V465.8M656.0 460.0V465.8M677.6 460.0V465.8M397.6 497.4H403.40M397.6 540.2H403.40M397.6 591.1H403.40M688.3 497.4H682.5M688.3 540.2H682.5M688.3 591.1H682.5" stroke="#000" stroke-width="1.1" fill="none"/>
<path d="M404.9 584.30V593.70M400.2 589.0H409.60M401.7 585.90H408.10M401.7 592.50H408.10" stroke="#000000" stroke-width="1.2" fill="none"/>
<path d="M411.2 578.80V587.90M408.10 578.80H414.3M408.10 587.90H414.3" stroke="#808080" stroke-width="1.1" fill="none"/>
<rect x="408.7" y="580.6" width="5.0" height="5.0" fill="#808080"/>
<path d="M417.1 585.10V593.60M414.0 585.10H420.20M414.0 593.60H420.20" stroke="#808080" stroke-width="1.1" fill="none"/>
<circle cx="417.1" cy="589.4" r="2.0" fill="none" stroke="#808080" stroke-width="1.25"/>
<path d="M423.4 580.00V588.80M420.30 580.00H426.5M420.30 588.80H426.5" stroke="#808080" stroke-width="1.1" fill="none"/>
<circle cx="423.4" cy="584.2" r="2.6" fill="#808080"/>
<path d="M437.6 591.80V601.20M432.90 596.5H442.3M434.40 593.10H440.8M434.40 599.90H440.8" stroke="#000000" stroke-width="1.2" fill="none"/>
<path d="M443.3 588.80V597.90M440.2 588.80H446.40M440.2 597.90H446.40" stroke="#808080" stroke-width="1.1" fill="none"/>
<rect x="440.8" y="591.1" width="5.0" height="5.0" fill="#808080"/>
<path d="M449.4 587.30V597.20M446.30 587.30H452.5M446.30 597.20H452.5" stroke="#808080" stroke-width="1.1" fill="none"/>
<circle cx="449.4" cy="592.4" r="2.0" fill="none" stroke="#808080" stroke-width="1.25"/>
<path d="M455.3 589.40V599.30M452.2 589.40H458.40M452.2 599.30H458.40" stroke="#808080" stroke-width="1.1" fill="none"/>
<circle cx="455.3" cy="594.2" r="2.6" fill="#808080"/>
<path d="M468.7 588.10V597.50M464.0 592.8H473.4M465.5 589.30H471.9M465.5 596.40H471.9" stroke="#000000" stroke-width="1.2" fill="none"/>
<path d="M474.6 579.40V589.90M471.5 579.40H477.70M471.5 589.90H477.70" stroke="#808080" stroke-width="1.1" fill="none"/>
<rect x="472.1" y="582.6" width="5.0" height="5.0" fill="#808080"/>
<path d="M479.7 584.50V595.90M476.60 584.50H482.8M476.60 595.90H482.8" stroke="#808080" stroke-width="1.1" fill="none"/>
<circle cx="479.7" cy="590.2" r="2.0" fill="none" stroke="#808080" stroke-width="1.25"/>
<path d="M485.1 604.20V615.80M482.0 604.20H488.20M482.0 615.80H488.20" stroke="#808080" stroke-width="1.1" fill="none"/>
<circle cx="485.1" cy="609.8" r="2.6" fill="#808080"/>
<path d="M498.5 586.10V595.50M493.8 590.8H503.2M495.3 587.40H501.7M495.3 594.20H501.7" stroke="#000000" stroke-width="1.2" fill="none"/>
<path d="M503.9 593.60V603.00M500.80 593.60H507.0M500.80 603.00H507.0" stroke="#808080" stroke-width="1.1" fill="none"/>
<rect x="501.4" y="596.0" width="5.0" height="5.0" fill="#808080"/>
<path d="M508.7 585.90V594.50M505.60 585.90H511.8M505.60 594.50H511.8" stroke="#808080" stroke-width="1.1" fill="none"/>
<circle cx="508.7" cy="590.2" r="2.0" fill="none" stroke="#808080" stroke-width="1.25"/>
<path d="M513.8 584.50V593.60M510.70 584.50H516.9M510.70 593.60H516.9" stroke="#808080" stroke-width="1.1" fill="none"/>
<circle cx="513.8" cy="589.4" r="2.6" fill="#808080"/>
<path d="M525.8 596.60V606.00M521.10 601.3H530.5M522.60 597.90H529.0M522.60 605.00H529.0" stroke="#000000" stroke-width="1.2" fill="none"/>
<path d="M531.5 597.30V607.30M528.4 597.30H534.6M528.4 607.30H534.6" stroke="#808080" stroke-width="1.1" fill="none"/>
<rect x="529.0" y="599.7" width="5.0" height="5.0" fill="#808080"/>
<path d="M536.6 596.50V606.40M533.5 596.50H539.7M533.5 606.40H539.7" stroke="#808080" stroke-width="1.1" fill="none"/>
<circle cx="536.6" cy="601.6" r="2.0" fill="none" stroke="#808080" stroke-width="1.25"/>
<path d="M541.1 595.90V605.90M538.0 595.90H544.2M538.0 605.90H544.2" stroke="#808080" stroke-width="1.1" fill="none"/>
<circle cx="541.1" cy="601.0" r="2.6" fill="#808080"/>
<path d="M552.9 583.10V592.50M548.20 587.8H557.6M549.70 584.00H556.1M549.70 591.50H556.1" stroke="#000000" stroke-width="1.2" fill="none"/>
<path d="M557.9 584.50V591.40M554.8 584.50H561.0M554.8 591.40H561.0" stroke="#808080" stroke-width="1.1" fill="none"/>
<rect x="555.4" y="585.4" width="5.0" height="5.0" fill="#808080"/>
<path d="M562.8 587.40V597.30M559.70 587.40H565.9M559.70 597.30H565.9" stroke="#808080" stroke-width="1.1" fill="none"/>
<circle cx="562.8" cy="592.2" r="2.0" fill="none" stroke="#808080" stroke-width="1.25"/>
<path d="M567.6 585.70V595.00M564.5 585.70H570.7M564.5 595.00H570.7" stroke="#808080" stroke-width="1.1" fill="none"/>
<circle cx="567.6" cy="590.2" r="2.6" fill="#808080"/>
<path d="M578.6 538.80V548.20M573.9 543.5H583.30M575.4 542.60H581.80M575.4 544.40H581.80" stroke="#000000" stroke-width="1.2" fill="none"/>
<path d="M583.4 542.60V546.00M580.3 542.60H586.5M580.3 546.00H586.5" stroke="#808080" stroke-width="1.1" fill="none"/>
<rect x="580.9" y="541.8" width="5.0" height="5.0" fill="#808080"/>
<path d="M588.3 540.70V544.10M585.20 540.70H591.4M585.20 544.10H591.4" stroke="#808080" stroke-width="1.1" fill="none"/>
<circle cx="588.3" cy="542.4" r="2.0" fill="none" stroke="#808080" stroke-width="1.25"/>
<path d="M592.4 541.70V545.10M589.3 541.70H595.5M589.3 545.10H595.5" stroke="#808080" stroke-width="1.1" fill="none"/>
<circle cx="592.4" cy="543.4" r="2.6" fill="#808080"/>
<path d="M603.0 541.20V550.60M598.3 545.9H607.7M599.8 545.00H606.2M599.8 546.80H606.2" stroke="#000000" stroke-width="1.2" fill="none"/>
<path d="M607.6 541.80V545.20M604.5 541.80H610.7M604.5 545.20H610.7" stroke="#808080" stroke-width="1.1" fill="none"/>
<rect x="605.1" y="541.0" width="5.0" height="5.0" fill="#808080"/>
<path d="M612.2 548.40V551.60M609.1 548.40H615.30M609.1 551.60H615.30" stroke="#808080" stroke-width="1.1" fill="none"/>
<circle cx="612.2" cy="550.0" r="2.0" fill="none" stroke="#808080" stroke-width="1.25"/>
<path d="M616.8 545.10V548.50M613.70 545.10H619.9M613.70 548.50H619.9" stroke="#808080" stroke-width="1.1" fill="none"/>
<circle cx="616.8" cy="546.8" r="2.6" fill="#808080"/>
<path d="M627.2 539.60V549.00M622.5 544.3H631.90M624.0 543.40H630.40M624.0 545.20H630.40" stroke="#000000" stroke-width="1.2" fill="none"/>
<path d="M631.4 541.50V544.90M628.3 541.50H634.5M628.3 544.90H634.5" stroke="#808080" stroke-width="1.1" fill="none"/>
<rect x="628.9" y="540.7" width="5.0" height="5.0" fill="#808080"/>
<path d="M635.5 547.10V550.30M632.4 547.10H638.6M632.4 550.30H638.6" stroke="#808080" stroke-width="1.1" fill="none"/>
<circle cx="635.5" cy="548.7" r="2.0" fill="none" stroke="#808080" stroke-width="1.25"/>
<path d="M639.7 543.30V546.70M636.6 543.30H642.80M636.6 546.70H642.80" stroke="#808080" stroke-width="1.1" fill="none"/>
<circle cx="639.7" cy="545.0" r="2.6" fill="#808080"/>
<path d="M649.8 508.10V517.50M645.10 512.8H654.5M646.60 512.20H653.0M646.60 513.40H653.0" stroke="#000000" stroke-width="1.2" fill="none"/>
<path d="M654.0 512.90V514.30M650.9 512.90H657.1M650.9 514.30H657.1" stroke="#808080" stroke-width="1.1" fill="none"/>
<rect x="651.5" y="511.1" width="5.0" height="5.0" fill="#808080"/>
<path d="M658.2 512.90V514.30M655.1 512.90H661.30M655.1 514.30H661.30" stroke="#808080" stroke-width="1.1" fill="none"/>
<circle cx="658.2" cy="513.6" r="2.0" fill="none" stroke="#808080" stroke-width="1.25"/>
<path d="M662.2 512.20V513.60M659.1 512.20H665.30M659.1 513.60H665.30" stroke="#808080" stroke-width="1.1" fill="none"/>
<circle cx="662.2" cy="512.9" r="2.6" fill="#808080"/>
<path d="M671.6 503.20V512.60M666.9 507.9H676.30M668.4 507.70H674.80M668.4 508.10H674.80" stroke="#000000" stroke-width="1.2" fill="none"/>
<path d="M679.5 507.00V508.00M676.4 507.00H682.6M676.4 508.00H682.6" stroke="#808080" stroke-width="1.1" fill="none"/>
<circle cx="679.5" cy="507.5" r="2.0" fill="none" stroke="#808080" stroke-width="1.25"/>
<path d="M683.6 507.90V508.90M680.5 507.90H686.7M680.5 508.90H686.7" stroke="#808080" stroke-width="1.1" fill="none"/>
<circle cx="683.6" cy="508.4" r="2.6" fill="#808080"/>
<path d="M640.5 576.6H674.0M640.5 573.4V579.80M674.0 573.4V579.80M657.25 572.1V581.1" stroke="#000000" stroke-width="1.2" fill="none"/>
<path d="M640.5 589.7H674.0M640.5 586.6V592.80M674.0 586.6V592.80" stroke="#808080" stroke-width="1.2" fill="none"/>
<rect x="654.7" y="587.2" width="5.0" height="5.0" fill="#808080"/>
<path d="M640.5 602.7H674.0M640.5 599.6V605.80M674.0 599.6V605.80" stroke="#808080" stroke-width="1.2" fill="none"/>
<circle cx="657.2" cy="602.7" r="2.0" fill="none" stroke="#808080" stroke-width="1.25"/>
<path d="M640.5 615.2H674.0M640.5 612.1V618.30M674.0 612.1V618.30" stroke="#808080" stroke-width="1.2" fill="none"/>
<circle cx="657.2" cy="615.2" r="2.6" fill="#808080"/>
</svg></body></html>
